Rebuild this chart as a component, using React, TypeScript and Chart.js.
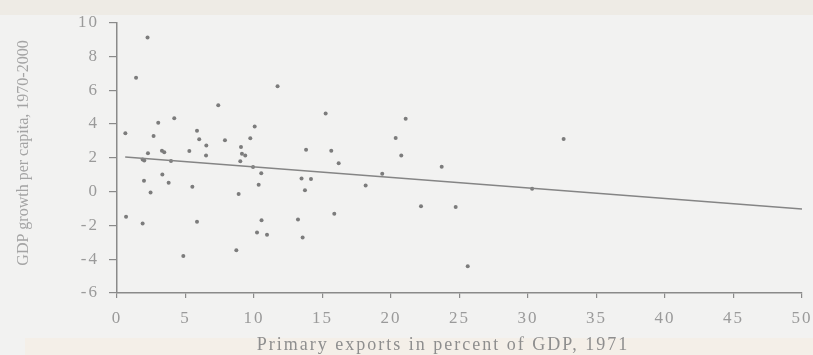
import React, { useEffect, useRef } from "react";
import { Chart, registerables } from "chart.js";

Chart.register(...registerables);

// Primary exports (% of GDP, 1971) for each country
const exportsShare = [
  0.61, 0.66, 1.39, 1.87, 1.99, 1.87, 1.97, 2.23, 2.26, 2.45,
  2.67, 3.01, 3.31, 3.28, 3.45, 3.77, 3.94, 4.18, 4.84, 5.28,
  5.5, 5.84, 6.0, 6.52, 6.5, 5.84, 7.39, 7.88, 8.71, 8.88,
  9.0, 9.05, 9.12, 9.36, 9.73, 9.93, 10.05, 10.34, 10.53, 10.55,
  10.22, 10.95, 11.72, 13.21, 13.47, 13.55, 13.72, 13.8, 14.16, 15.23,
  15.64, 15.86, 16.18, 18.15, 19.36, 20.34, 20.75, 21.07, 22.19, 23.7,
  24.72, 25.6, 30.3, 32.6,
];

// GDP growth per capita, 1970-2000 (% per year)
const gdpGrowth = [
  3.45, -1.49, 6.73, 1.89, 1.83, -1.89, 0.64, 9.12, 2.26, -0.06,
  3.29, 4.07, 1.01, 2.42, 2.32, 0.52, 1.81, 4.33, -3.81, 2.4,
  0.28, 3.59, 3.1, 2.72, 2.14, -1.79, 5.1, 3.04, -3.47, -0.14,
  1.79, 2.64, 2.24, 2.14, 3.15, 1.45, 3.85, 0.4, 1.09, -1.69,
  -2.42, -2.56, 6.23, -1.65, 0.77, -2.72, 0.08, 2.48, 0.75, 4.62,
  2.42, -1.31, 1.67, 0.36, 1.05, 3.17, 2.14, 4.3, -0.87, 1.47,
  -0.91, -4.42, 0.16, 3.11,
];

// Fitted regression line end points
const fitX = [0.6, 50];
const fitY = [2.05, -1.03];

// Axis ranges and tick steps
const xRange = [0, 50];
const xStep = 5;
const yRange = [-6, 10];
const yStep = 2;

const xTitle = "Primary exports in percent of GDP, 1971";
const yTitle = "GDP growth per capita, 1970-2000";

const SERIF = "'Liberation Serif', 'Times New Roman', serif";

const backdrop = {
  id: "backdrop",
  beforeDraw(chart: any) {
    const { ctx, width, height } = chart;
    ctx.save();
    ctx.fillStyle = "#f2f2f1";
    ctx.fillRect(0, 0, width, height);
    ctx.fillStyle = "#eeebe5";
    ctx.fillRect(0, 0, width, 15);
    ctx.fillStyle = "#f4efe8";
    ctx.fillRect(25, 338, width - 25, height - 338);
    ctx.restore();
    // wide-set type for tick labels
    ctx.letterSpacing = "2px";
  },
  afterDraw(chart: any) {
    const { ctx } = chart;
    ctx.save();
    ctx.letterSpacing = "2px";
    ctx.fillStyle = "#8e8e8e";
    ctx.font = `18px ${SERIF}`;
    ctx.textAlign = "center";
    ctx.textBaseline = "alphabetic";
    ctx.fillText(xTitle, 443, 350);
    ctx.letterSpacing = "0px";
    ctx.translate(24, 153);
    ctx.rotate(-Math.PI / 2);
    ctx.fillStyle = "#a4a4a4";
    ctx.font = `16px ${SERIF}`;
    ctx.textBaseline = "middle";
    ctx.fillText(yTitle, 0, 0);
    ctx.restore();
    ctx.letterSpacing = "0px";
  },
};

export default function App() {
  const canvasRef = useRef<HTMLCanvasElement | null>(null);

  useEffect(() => {
    document.body.style.margin = "0";
    const canvas = canvasRef.current;
    if (!canvas) return;

    const points = exportsShare.map((x, i) => ({ x, y: gdpGrowth[i] }));
    const fit = fitX.map((x, i) => ({ x, y: fitY[i] }));

    const chart = new Chart(canvas, {
      type: "scatter",
      data: {
        datasets: [
          {
            type: "line",
            data: fit,
            borderColor: "#858585",
            borderWidth: 1.5,
            pointRadius: 0,
            fill: false,
          },
          {
            data: points,
            backgroundColor: "#7c7c7c",
            borderWidth: 0,
            pointRadius: 2,
          },
        ],
      },
      options: {
        animation: false,
        responsive: false,
        devicePixelRatio: 1,
        layout: { padding: { top: 22.5, right: 11, left: 0, bottom: 0 } },
        plugins: {
          legend: { display: false },
          tooltip: { enabled: false },
        },
        scales: {
          x: {
            type: "linear",
            min: xRange[0],
            max: xRange[1],
            afterFit: (scale: any) => {
              scale.height = 62;
              scale.paddingLeft = 0;
              scale.paddingRight = 0;
            },
            border: { display: true, color: "#8a8a8a", width: 1.5 },
            grid: {
              drawOnChartArea: false,
              drawTicks: true,
              tickLength: 5,
              color: "#8a8a8a",
              lineWidth: 1.2,
            },
            ticks: {
              stepSize: xStep,
              padding: 10,
              color: "#9a9a9a",
              font: { family: SERIF, size: 17 },
              maxRotation: 0,
            },
          },
          y: {
            type: "linear",
            min: yRange[0],
            max: yRange[1],
            afterFit: (scale: any) => {
              scale.width = 117;
              scale.paddingTop = 0;
              scale.paddingBottom = 0;
            },
            border: { display: true, color: "#8a8a8a", width: 1.5 },
            grid: {
              drawOnChartArea: false,
              drawTicks: true,
              tickLength: 8,
              color: "#8a8a8a",
              lineWidth: 1.2,
            },
            ticks: {
              stepSize: yStep,
              padding: 10,
              color: "#9a9a9a",
              font: { family: SERIF, size: 17 },
            },
          },
        },
      },
      plugins: [backdrop],
    });

    return () => chart.destroy();
  }, []);

  return (
    <div style={{ position: "fixed", left: 0, top: 0, width: 813, height: 355 }}>
      <canvas ref={canvasRef} width={813} height={355} />
    </div>
  );
}
